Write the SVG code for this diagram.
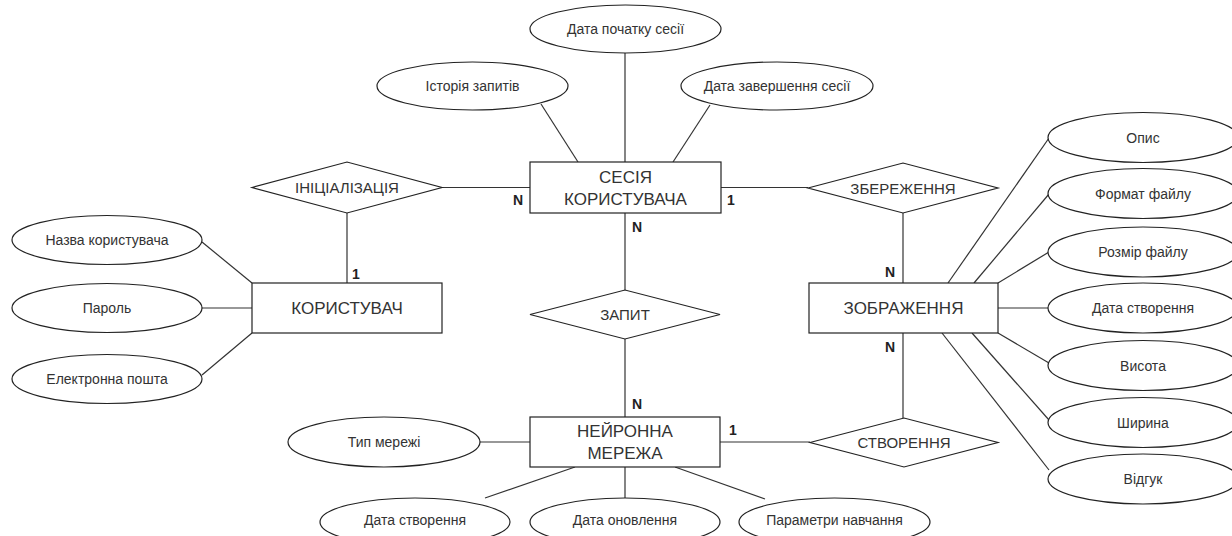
<svg xmlns="http://www.w3.org/2000/svg" width="1232" height="536" viewBox="0 0 1232 536">
<style>
.shape{fill:#ffffff;stroke:#222222;stroke-width:1.2}
.conn line{stroke:#333333;stroke-width:1.2}
.t{font-family:"Liberation Sans",Arial,sans-serif;fill:#333333;text-anchor:middle;dominant-baseline:central}
.attr{font-size:14px}
.ent{font-size:17px}
.rel{font-size:15px}
.card{font-family:"Liberation Sans",Arial,sans-serif;font-size:14px;font-weight:bold;fill:#222222}
</style>
<rect width="1232" height="536" fill="#ffffff"/>
<g id="connectors" class="conn">
<line x1="625" y1="53" x2="625" y2="162"/>
<line x1="541" y1="104" x2="578" y2="162"/>
<line x1="710" y1="105" x2="673" y2="162"/>
<line x1="442" y1="187.5" x2="530" y2="187.5"/>
<line x1="347" y1="213" x2="347" y2="283"/>
<line x1="202" y1="242" x2="252" y2="283"/>
<line x1="202" y1="308" x2="252" y2="308"/>
<line x1="202" y1="375" x2="252" y2="333"/>
<line x1="721" y1="187.5" x2="808" y2="187.5"/>
<line x1="903" y1="213" x2="903" y2="283"/>
<line x1="948" y1="283" x2="1049" y2="138"/>
<line x1="974" y1="283" x2="1049" y2="194"/>
<line x1="998" y1="283" x2="1049" y2="252"/>
<line x1="998" y1="308" x2="1048" y2="308"/>
<line x1="998" y1="333" x2="1049" y2="363"/>
<line x1="972" y1="333" x2="1049" y2="420"/>
<line x1="942" y1="333" x2="1049" y2="470"/>
<line x1="903" y1="333" x2="903" y2="418"/>
<line x1="720" y1="442" x2="810" y2="442"/>
<line x1="625" y1="213" x2="625" y2="290"/>
<line x1="625" y1="339" x2="625" y2="417"/>
<line x1="480" y1="442" x2="530" y2="442"/>
<line x1="575" y1="467" x2="485" y2="498"/>
<line x1="625" y1="467" x2="625" y2="498"/>
<line x1="675" y1="467" x2="765" y2="499"/>
</g>
<g id="session">
<rect class="shape" x="530" y="162" width="191" height="51"/>
<text class="t ent" x="625.5" y="177">СЕСІЯ</text>
<text class="t ent" x="625.5" y="199">КОРИСТУВАЧА</text>
</g>
<g id="user">
<rect class="shape" x="252" y="283" width="190" height="50"/>
<text class="t ent" x="347" y="308">КОРИСТУВАЧ</text>
</g>
<g id="image">
<rect class="shape" x="809" y="283" width="189" height="50"/>
<text class="t ent" x="903.5" y="308">ЗОБРАЖЕННЯ</text>
</g>
<g id="network">
<rect class="shape" x="530" y="417" width="190" height="50"/>
<text class="t ent" x="625" y="431">НЕЙРОННА</text>
<text class="t ent" x="625" y="453">МЕРЕЖА</text>
</g>
<g id="rel-init">
<polygon class="shape" points="252,187.5 347,162 442,187.5 347,213"/>
<text class="t rel" x="347" y="187.5">ІНІЦІАЛІЗАЦІЯ</text>
</g>
<g id="rel-save">
<polygon class="shape" points="808,188 903,163 998,188 903,213"/>
<text class="t rel" x="903" y="188">ЗБЕРЕЖЕННЯ</text>
</g>
<g id="rel-query">
<polygon class="shape" points="530,314.5 625,290 720,314.5 625,339"/>
<text class="t rel" x="625" y="314.5">ЗАПИТ</text>
</g>
<g id="rel-create">
<polygon class="shape" points="810,442.5 904,418 998,442.5 904,467"/>
<text class="t rel" x="904" y="442.5">СТВОРЕННЯ</text>
</g>
<g id="a-start"><ellipse class="shape" cx="625.5" cy="29" rx="95.5" ry="24"/><text class="t attr" x="625.5" y="29">Дата початку сесії</text></g>
<g id="a-history"><ellipse class="shape" cx="472.5" cy="86" rx="95.5" ry="24"/><text class="t attr" x="472.5" y="86">Історія запитів</text></g>
<g id="a-end"><ellipse class="shape" cx="777" cy="86" rx="96" ry="24"/><text class="t attr" x="777" y="86">Дата завершення сесії</text></g>
<g id="a-username"><ellipse class="shape" cx="107" cy="240" rx="95" ry="24.5"/><text class="t attr" x="107" y="240">Назва користувача</text></g>
<g id="a-password"><ellipse class="shape" cx="107" cy="308" rx="95" ry="24.5"/><text class="t attr" x="107" y="308">Пароль</text></g>
<g id="a-email"><ellipse class="shape" cx="107" cy="379" rx="95" ry="24.5"/><text class="t attr" x="107" y="379">Електронна пошта</text></g>
<g id="a-desc"><ellipse class="shape" cx="1143" cy="137.5" rx="95" ry="25"/><text class="t attr" x="1143" y="137.5">Опис</text></g>
<g id="a-format"><ellipse class="shape" cx="1143" cy="193.5" rx="95" ry="25"/><text class="t attr" x="1143" y="193.5">Формат файлу</text></g>
<g id="a-size"><ellipse class="shape" cx="1143" cy="252" rx="95" ry="25"/><text class="t attr" x="1143" y="252">Розмір файлу</text></g>
<g id="a-created"><ellipse class="shape" cx="1143" cy="308" rx="95" ry="25"/><text class="t attr" x="1143" y="308">Дата створення</text></g>
<g id="a-height"><ellipse class="shape" cx="1143" cy="365.5" rx="95" ry="25"/><text class="t attr" x="1143" y="365.5">Висота</text></g>
<g id="a-width"><ellipse class="shape" cx="1143" cy="422.5" rx="95" ry="25"/><text class="t attr" x="1143" y="422.5">Ширина</text></g>
<g id="a-feedback"><ellipse class="shape" cx="1143" cy="479" rx="95" ry="25"/><text class="t attr" x="1143" y="479">Відгук</text></g>
<g id="a-nettype"><ellipse class="shape" cx="384" cy="442" rx="96" ry="25"/><text class="t attr" x="384" y="442">Тип мережі</text></g>
<g id="a-netcreated"><ellipse class="shape" cx="415" cy="522" rx="95" ry="24"/><text class="t attr" x="415" y="520">Дата створення</text></g>
<g id="a-netupdated"><ellipse class="shape" cx="625" cy="522" rx="95" ry="24"/><text class="t attr" x="625" y="520">Дата оновлення</text></g>
<g id="a-params"><ellipse class="shape" cx="834.5" cy="522" rx="95.5" ry="24"/><text class="t attr" x="834.5" y="520">Параметри навчання</text></g>
<g id="cardinalities">
<text class="card" x="513" y="205">N</text>
<text class="card" x="727" y="205">1</text>
<text class="card" x="632" y="232">N</text>
<text class="card" x="352" y="279">1</text>
<text class="card" x="885" y="277">N</text>
<text class="card" x="885" y="352">N</text>
<text class="card" x="632" y="409">N</text>
<text class="card" x="729" y="435">1</text>
</g>
</svg>
